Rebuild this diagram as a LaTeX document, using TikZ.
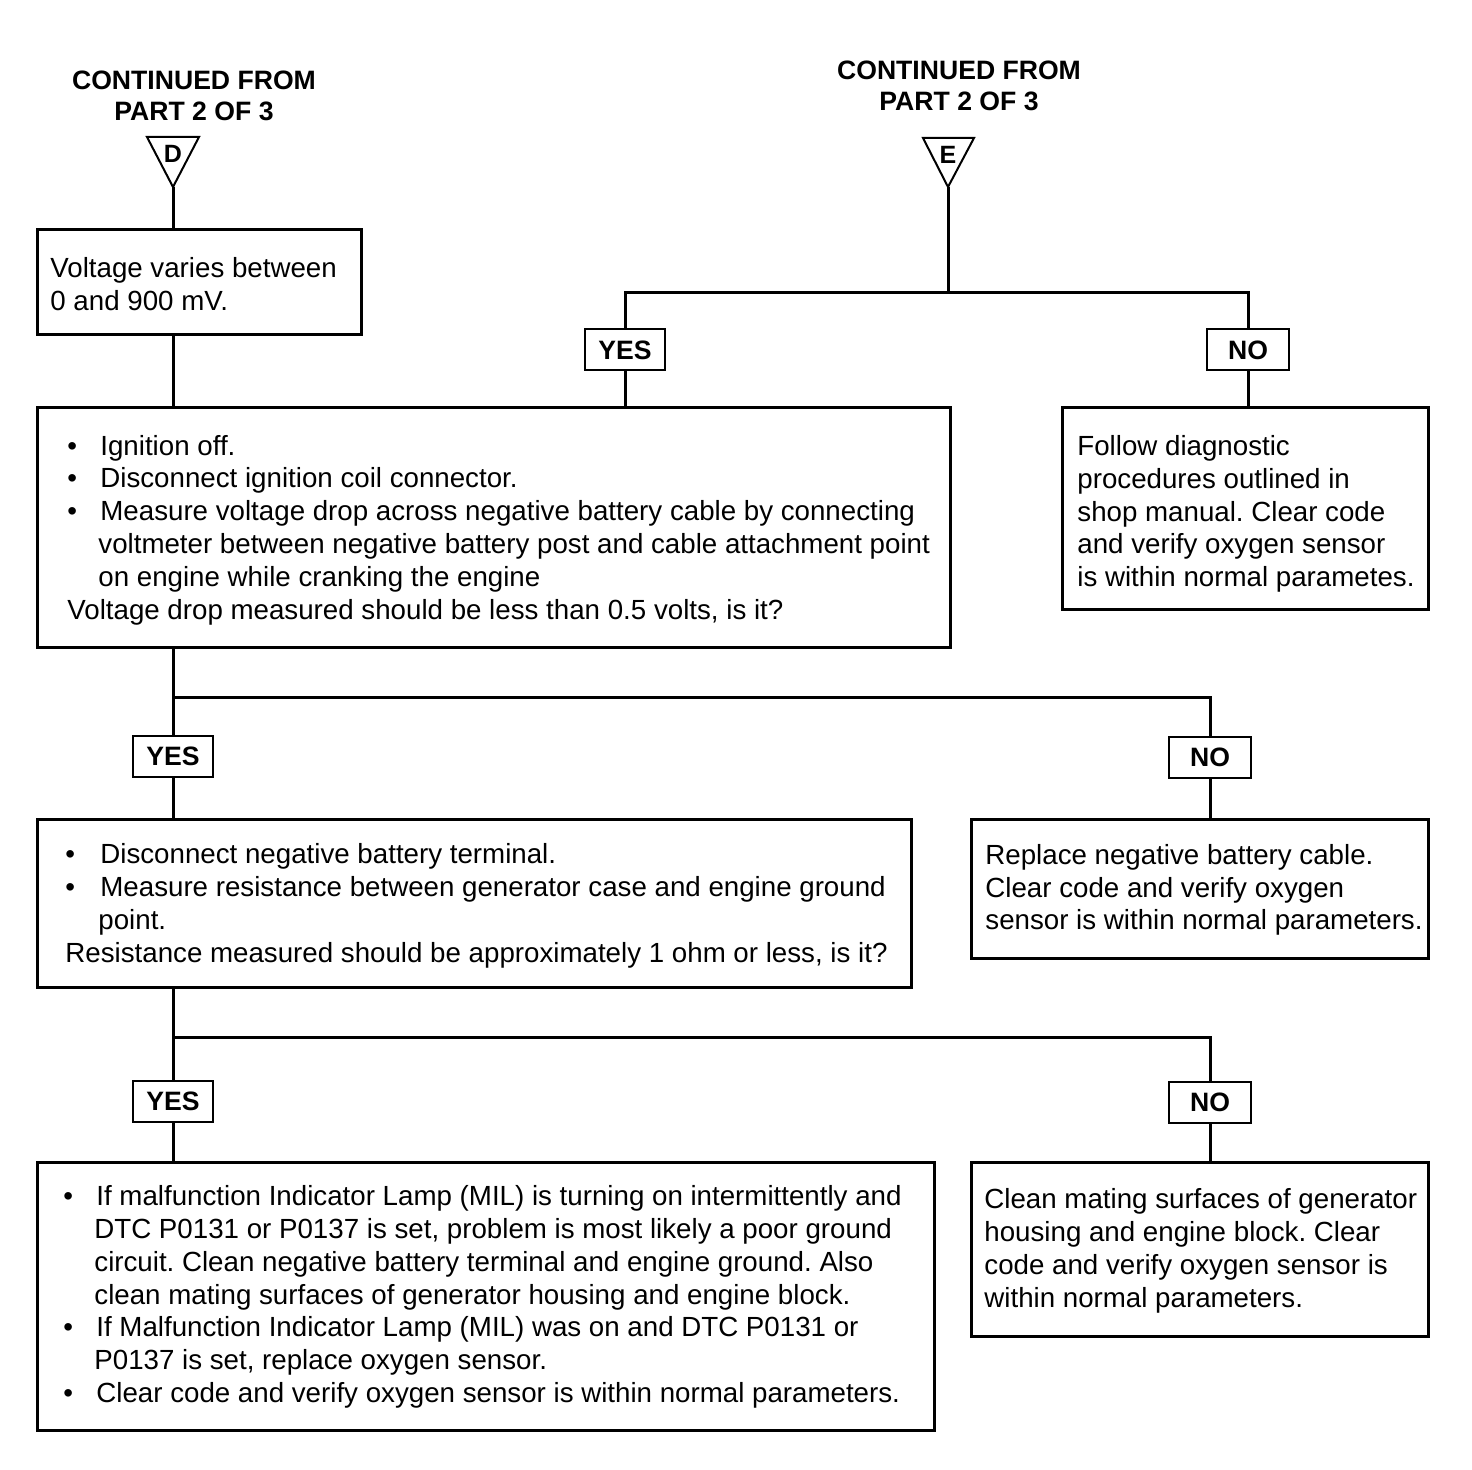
\documentclass[tikz,border=0pt]{standalone}
\usepackage{fontspec}
\setmainfont{Liberation Sans}
\usetikzlibrary{fit}
\frenchspacing
\newcommand\bu[1][16.5pt]{\makebox[#1][l]{\textbullet}}
\newcommand\ind[1][15.5pt]{\hspace*{#1}}
\begin{document}
\begin{tikzpicture}[x=0.5pt,y=-0.5pt,
  box/.style={draw, line width=1.5pt, inner sep=0pt},
  lab/.style={draw, line width=1pt, inner sep=0pt, minimum width=40pt, minimum height=20.5pt, font=\fontsize{13.3}{15.5}\selectfont\bfseries},
  txt/.style={inner sep=0pt, anchor=west, align=left, font=\fontsize{13.85}{16.4}\selectfont},
  head/.style={inner sep=0pt, align=center, font=\fontsize{13.3}{15.5}\selectfont\bfseries},
  letter/.style={inner sep=0pt, font=\fontsize{12.5}{14}\selectfont\bfseries},
  tri/.style={draw, line width=1pt, line join=miter},
  con/.style={draw, line width=1.5pt}]
\useasboundingbox (0,0) rectangle (1472,1470);
\fill[white] (0,0) rectangle (1472,1470);

% headings
\node[head] (h1) at (194,96) {CONTINUED FROM\\PART 2 OF 3};
\node[head] (h2) at (959,86) {CONTINUED FROM\\PART 2 OF 3};

% triangles
\coordinate (Da) at (173,187);
\draw[tri] (147,137) -- (199,137) -- (Da) -- cycle;
\node[letter] (D) at (173,154) {D};
\coordinate (Ea) at (948,187);
\draw[tri] (923,138) -- (974,138) -- (Ea) -- cycle;
\node[letter] (E) at (948,155) {E};

% boxes
\node[box, fit={(37,230)(361,335)}] (b1) {};
\node[box, fit={(37,408)(950,647)}] (b2) {};
\node[box, fit={(1062,408)(1428,609)}] (nb1) {};
\node[box, fit={(37,819)(911,987)}] (b3) {};
\node[box, fit={(971,819)(1428,958)}] (nb2) {};
\node[box, fit={(37,1162)(934,1430)}] (b4) {};
\node[box, fit={(971,1162)(1428,1336)}] (nb3) {};

% labels
\node[lab] (y1) at (625,350) {YES};
\node[lab, minimum width=41pt] (n1) at (1248,350) {NO};
\node[lab] (y2) at (173,756) {YES};
\node[lab, minimum width=41pt] (n2) at (1210,757) {NO};
\node[lab] (y3) at (173,1101) {YES};
\node[lab, minimum width=41pt] (n3) at (1210,1102) {NO};

% texts
\node[txt] (t1) at (50,284) {Voltage varies between\\0 and 900 mV.};
\node[txt] (t2) at (67,530) {\bu Ignition off.\\
\bu Disconnect ignition coil connector.\\
\bu Measure voltage drop across negative battery cable by connecting\\
\ind voltmeter between negative battery post and cable attachment point\\
\ind on engine while cranking the engine\\
Voltage drop measured should be less than 0.5 volts, is it?};
\node[txt] (tn1) at (1077,514) {Follow diagnostic\\procedures outlined in\\shop manual. Clear code\\and verify oxygen sensor\\is within normal parametes.};
\node[txt] (t3) at (65,906) {\bu[17.5pt]Disconnect negative battery terminal.\\
\bu[17.5pt]Measure resistance between generator case and engine ground\\
\ind[16.5pt]point.\\
Resistance measured should be approximately 1 ohm or less, is it?};
\node[txt] (tn2) at (985,890) {Replace negative battery cable.\\Clear code and verify oxygen\\sensor is within normal parameters.};
\node[txt] (t4) at (63,1297) {\bu If malfunction Indicator Lamp (MIL) is turning on intermittently and\\
\ind DTC P0131 or P0137 is set, problem is most likely a poor ground\\
\ind circuit. Clean negative battery terminal and engine ground. Also\\
\ind clean mating surfaces of generator housing and engine block.\\
\bu If Malfunction Indicator Lamp (MIL) was on and DTC P0131 or\\
\ind P0137 is set, replace oxygen sensor.\\
\bu Clear code and verify oxygen sensor is within normal parameters.};
\node[txt] (tn3) at (984,1251) {Clean mating surfaces of generator\\housing and engine block. Clear\\code and verify oxygen sensor is\\within normal parameters.};

% connectors
\coordinate (j1) at (948,293);
\coordinate (j2) at (173,697);
\coordinate (j3) at (173,1037);
\draw[con] (Da) -- (Da |- b1.north);
\draw[con] (Da |- b1.south) -- (Da |- b2.north);
\draw[con] (Ea) -- (j1);
\draw[con] (y1.north) |- (j1) -| (n1.north);
\draw[con] (y1.south) -- (y1.south |- b2.north);
\draw[con] (n1.south) -- (n1.south |- nb1.north);
\draw[con] (y2.north |- b2.south) -- (y2.north);
\draw[con] (j2) -| (n2.north);
\draw[con] (y2.south) -- (y2.south |- b3.north);
\draw[con] (n2.south) -- (n2.south |- nb2.north);
\draw[con] (y3.north |- b3.south) -- (y3.north);
\draw[con] (j3) -| (n3.north);
\draw[con] (y3.south) -- (y3.south |- b4.north);
\draw[con] (n3.south) -- (n3.south |- nb3.north);
\end{tikzpicture}
\end{document}
